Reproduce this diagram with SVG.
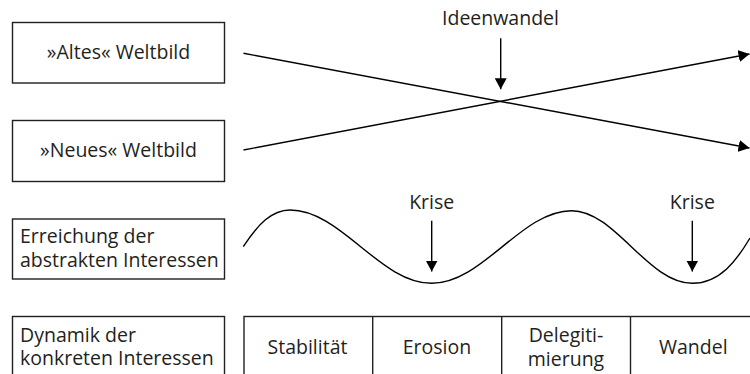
<svg xmlns="http://www.w3.org/2000/svg" width="750" height="374" viewBox="0 0 750 374">
<style>
text{font-family:"Open Sans","Noto Sans","Liberation Sans",sans-serif;font-size:19.5px;fill:#231f20}
.box{fill:#fff;stroke:#231f20;stroke-width:1.4}
.ln{fill:none;stroke:#000;stroke-width:1.4}
.c{text-anchor:middle}
</style>
<defs>
<marker id="ah" markerUnits="userSpaceOnUse" viewBox="0 0 11 12" refX="11" refY="6" markerWidth="11" markerHeight="12" orient="auto">
<path d="M0,0 L11,6 L0,12 z" fill="#000"/>
</marker>
</defs>
<rect width="750" height="374" fill="#fff"/>
<g id="node-altes">
<rect class="box" x="12.5" y="22.5" width="212" height="60.5"/>
<text class="c" x="118.5" y="58.5">»Altes« Weltbild</text>
</g>
<g id="node-neues">
<rect class="box" x="12.5" y="120.5" width="212" height="61"/>
<text class="c" x="118.5" y="156.5">»Neues« Weltbild</text>
</g>
<g id="node-erreichung">
<rect class="box" x="12.5" y="219" width="212" height="60"/>
<text x="20" y="243.3">Erreichung der<tspan x="20" y="266.7">abstrakten Interessen</tspan></text>
</g>
<g id="node-dynamik">
<rect class="box" x="12.5" y="316.5" width="212" height="70"/>
<text x="20" y="341.7">Dynamik der<tspan x="20" y="365">konkreten Interessen</tspan></text>
</g>
<g id="node-phasen">
<rect class="box" x="244" y="316.5" width="520" height="70"/>
<line class="ln" x1="372.7" y1="316.5" x2="372.7" y2="380" style="stroke:#231f20"/>
<line class="ln" x1="501.7" y1="316.5" x2="501.7" y2="380" style="stroke:#231f20"/>
<line class="ln" x1="630.5" y1="316.5" x2="630.5" y2="380" style="stroke:#231f20"/>
<text class="c" x="307.5" y="354">Stabilität</text>
<text class="c" x="437" y="354">Erosion</text>
<text class="c" x="566" y="342.3">Delegiti-<tspan x="566" y="365.7">mierung</tspan></text>
<text class="c" x="693.3" y="354">Wandel</text>
</g>
<g id="label-ideenwandel">
<text class="c" x="500.5" y="25">Ideenwandel</text>
</g>
<g id="label-krise1">
<text class="c" x="431.7" y="209">Krise</text>
</g>
<g id="label-krise2">
<text class="c" x="692.3" y="209">Krise</text>
</g>
<g id="connectors">
<line class="ln" x1="243.5" y1="53.3" x2="749.5" y2="148" marker-end="url(#ah)"/>
<line class="ln" x1="243.5" y1="150" x2="749.5" y2="54" marker-end="url(#ah)"/>
<line class="ln" x1="500.7" y1="38.3" x2="500.7" y2="89.3" marker-end="url(#ah)"/>
<line class="ln" x1="431.7" y1="220.7" x2="431.7" y2="271.5" marker-end="url(#ah)"/>
<line class="ln" x1="692.3" y1="220.7" x2="692.3" y2="271.5" marker-end="url(#ah)"/>
<path class="ln" d="M243.3,246.7 C258,224 272,210 290,210 C341,210 380,283.3 431.7,283.3 C483,283.3 521,210.7 571.7,210.7 C615,210.7 648,283.3 692.3,283.3 C720,283.3 737,260 750,238"/>
</g>
</svg>
